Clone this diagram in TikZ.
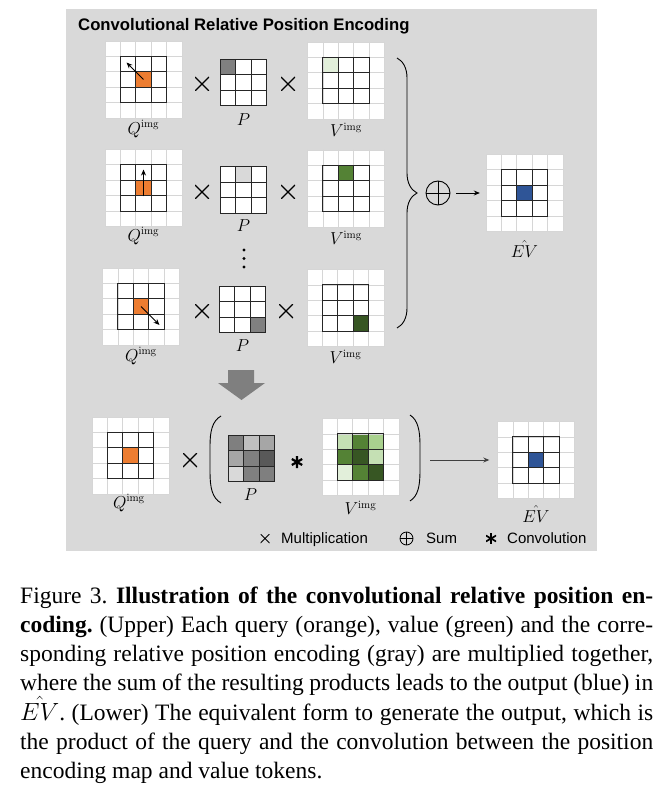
\documentclass[tikz,border=0pt]{standalone}
\usepackage[no-math]{fontspec}
\setsansfont{Liberation Sans}
\newfontfamily\capfont{Liberation Serif}
\usetikzlibrary{decorations.pathreplacing,arrows.meta,calc}
\definecolor{panelgray}{HTML}{D9D9D9}
\definecolor{gridgray}{HTML}{D6D6D6}
\definecolor{qorange}{HTML}{ED7D31}
\definecolor{evblue}{HTML}{2F5597}
\definecolor{gvlight}{HTML}{E2EFDA}
\definecolor{glight}{HTML}{C5E0B4}
\definecolor{glight2}{HTML}{A9D18E}
\definecolor{gmid}{HTML}{548235}
\definecolor{gdark}{HTML}{375623}
\definecolor{pvlight}{HTML}{D9D9D9}
\definecolor{plight}{HTML}{BFBFBF}
\definecolor{pmidl}{HTML}{A6A6A6}
\definecolor{pmid}{HTML}{808080}
\definecolor{pdark}{HTML}{595959}
\definecolor{arrgray}{HTML}{7F7F7F}
\def\cs{15.4}
\tikzset{
  gbox5/.style={rectangle,draw=none,fill=white,minimum size=77pt,inner sep=0pt},
  gbox3/.style={rectangle,draw=none,fill=white,minimum size=46.2pt,inner sep=0pt},
  lightline/.style={draw=gridgray,line width=0.8pt},
  darkline/.style={draw=black!85,line width=1pt,line cap=rect},
  lbl/.style={font=\fontsize{16}{18}\selectfont,inner sep=0pt},
  timesn/.style={minimum size=14pt,inner sep=0pt,path picture={
     \draw[line width=#1] (path picture bounding box.north west) -- (path picture bounding box.south east)
       (path picture bounding box.south west) -- (path picture bounding box.north east);}},
  timesn/.default=1.1pt,
  sumn/.style={circle,draw,line width=0.9pt,inner sep=0pt,path picture={
     \draw[line width=0.9pt] (path picture bounding box.north) -- (path picture bounding box.south)
       (path picture bounding box.west) -- (path picture bounding box.east);}},
  astn/.style={inner sep=0pt,path picture={
     \draw[line width=#1] (path picture bounding box.center) ++(90:6pt) -- ++(270:12pt)
       (path picture bounding box.center) ++(30:6pt) -- ++(210:12pt)
       (path picture bounding box.center) ++(150:6pt) -- ++(330:12pt);}},
  leg/.style={font=\sffamily\fontsize{15}{18}\selectfont,inner sep=0pt,anchor=base west},
  arrowst/.style={-{Stealth[length=6pt,width=5pt]},line width=0.9pt},
}
\newcommand\cellc[4]{\fill[#4] ($(#1.center)+(#2*\cs-0.5*\cs,#3*\cs-0.5*\cs)$) rectangle +(\cs,\cs);}
\newcommand\threelines[1]{%
  \foreach \k in {-1.5,-0.5,0.5,1.5}{
    \draw[darkline] ($(#1.center)+(\k*\cs,-1.5*\cs)$) -- ($(#1.center)+(\k*\cs,1.5*\cs)$);
    \draw[darkline] ($(#1.center)+(-1.5*\cs,\k*\cs)$) -- ($(#1.center)+(1.5*\cs,\k*\cs)$);
  }}
\newcommand\fivelines[1]{%
  \foreach \k in {-2.5,-1.5,-0.5,0.5,1.5,2.5}{
    \draw[lightline] ($(#1.center)+(\k*\cs,-2.5*\cs)$) -- ($(#1.center)+(\k*\cs,2.5*\cs)$);
    \draw[lightline] ($(#1.center)+(-2.5*\cs,\k*\cs)$) -- ($(#1.center)+(2.5*\cs,\k*\cs)$);
  }}
\begin{document}
\begin{tikzpicture}[x=1pt,y=-1pt]
\useasboundingbox (0,0) rectangle (666,791);
\fill[white] (0,0) rectangle (666,791);
\fill[panelgray] (66,9) rectangle (597,551);
\node[anchor=base west,font=\sffamily\bfseries\fontsize{16.7}{20}\selectfont,inner sep=0pt] (title) at (78,30.5) {Convolutional Relative Position Encoding};

% ---------- row 1
\node[gbox5] (q1) at (143.5,79.5) {};
\cellc{q1}{0}{0}{qorange}
\fivelines{q1}\threelines{q1}
\draw[arrowst] (q1.center) -- ($(q1.center)+(-1.1*\cs,-1.1*\cs)$);
\node[lbl] (q1l) at (143.5,129) {$Q^{\mathrm{img}}$};
\node[timesn] (x11) at (202,84) {};
\node[gbox3] (p1) at (243.5,82.5) {};
\cellc{p1}{-1}{-1}{pmid}
\threelines{p1}
\node[lbl] (p1l) at (243.5,120) {$P$};
\node[timesn] (x12) at (288,84) {};
\node[gbox5] (v1) at (346,80.5) {};
\cellc{v1}{-1}{-1}{gvlight}
\fivelines{v1}\threelines{v1}
\node[lbl] (v1l) at (346,130) {$V^{\mathrm{img}}$};

% ---------- row 2
\node[gbox5] (q2) at (143.5,188) {};
\cellc{q2}{0}{0}{qorange}
\fivelines{q2}\threelines{q2}
\draw[arrowst] ($(q2.center)+(0,0.55*\cs)$) -- ($(q2.center)+(0,-1.2*\cs)$);
\node[lbl] (q2l) at (143.5,236) {$Q^{\mathrm{img}}$};
\node[timesn] (x21) at (202,192) {};
\node[gbox3] (p2) at (243.5,190) {};
\cellc{p2}{0}{-1}{pvlight}
\threelines{p2}
\node[lbl] (p2l) at (243.5,226) {$P$};
\node[timesn] (x22) at (288,192) {};
\node[gbox5] (v2) at (346,188.5) {};
\cellc{v2}{0}{-1}{gmid}
\fivelines{v2}\threelines{v2}
\node[lbl] (v2l) at (346,238) {$V^{\mathrm{img}}$};

% dots
\fill (244,250) circle (1.6) (244,258.5) circle (1.6) (244,267) circle (1.6);

% ---------- row 3
\node[gbox5] (q3) at (141,306.5) {};
\cellc{q3}{0}{0}{qorange}
\fivelines{q3}\threelines{q3}
\draw[arrowst] (q3.center) -- ($(q3.center)+(1.2*\cs,1.2*\cs)$);
\node[lbl] (q3l) at (141,356) {$Q^{\mathrm{img}}$};
\node[timesn] (x31) at (202,311) {};
\node[gbox3] (p3) at (242.5,309.5) {};
\cellc{p3}{1}{1}{pmid}
\threelines{p3}
\node[lbl] (p3l) at (242.5,346) {$P$};
\node[timesn] (x32) at (286,311) {};
\node[gbox5] (v3) at (345.5,308) {};
\cellc{v3}{1}{1}{gdark}
\fivelines{v3}\threelines{v3}
\node[lbl] (v3l) at (345.5,357) {$V^{\mathrm{img}}$};

% brace, sum, output
\draw[decorate,decoration={brace,amplitude=20pt},line width=0.9pt] (397,58) -- (397,328);
\node[sumn,minimum size=24pt] (sum) at (438,193) {};
\node[gbox5] (ev1) at (524.5,193) {};
\cellc{ev1}{0}{0}{evblue}
\fivelines{ev1}\threelines{ev1}
\node[lbl] (ev1l) at (524.5,249) {$\hat{EV}$};
\draw[arrowst,shorten <=6pt,shorten >=6pt] (sum) -- (ev1);

% big down arrow
\fill[arrgray] (228,370) -- (254,370) -- (254,383) -- (265,383) -- (241.5,400) -- (218,383) -- (228,383) -- cycle;

% ---------- lower row
\node[gbox5] (q4) at (130.5,455.5) {};
\cellc{q4}{0}{0}{qorange}
\fivelines{q4}\threelines{q4}
\node[lbl] (q4l) at (129,503) {$Q^{\mathrm{img}}$};
\node[timesn] (x41) at (190,460) {};
\draw[line width=0.9pt] (221,416) .. controls (212,421) and (210,432) .. (210,446) -- (210,472) .. controls (210,487) and (212,498) .. (221,503);
\node[gbox3] (p4) at (251.5,458.5) {};
\cellc{p4}{-1}{-1}{arrgray}
\cellc{p4}{0}{-1}{plight}
\cellc{p4}{1}{-1}{pmidl}
\cellc{p4}{-1}{0}{pmidl}
\cellc{p4}{0}{0}{pmid}
\cellc{p4}{1}{0}{pdark}
\cellc{p4}{-1}{1}{pvlight}
\cellc{p4}{0}{1}{pmid}
\cellc{p4}{1}{1}{arrgray}
\threelines{p4}
\node[lbl] (p4l) at (250.5,495) {$P$};
\node[astn=2.2pt,minimum size=13pt] (ast) at (297,462) {};
\node[gbox5] (v4) at (360.5,457) {};
\cellc{v4}{-1}{-1}{glight}
\cellc{v4}{0}{-1}{gmid}
\cellc{v4}{1}{-1}{glight2}
\cellc{v4}{-1}{0}{gmid}
\cellc{v4}{0}{0}{gdark}
\cellc{v4}{1}{0}{glight}
\cellc{v4}{-1}{1}{gvlight}
\cellc{v4}{0}{1}{gmid}
\cellc{v4}{1}{1}{gdark}
\fivelines{v4}\threelines{v4}
\node[lbl] (v4l) at (360.5,508) {$V^{\mathrm{img}}$};
\draw[line width=0.9pt] (410,415) .. controls (418,420) and (420,431) .. (420,445) -- (420,471) .. controls (420,486) and (418,496) .. (410,501);
\coordinate (rpar) at (430,460);
\node[gbox5] (ev2) at (536,460) {};
\cellc{ev2}{0}{0}{evblue}
\fivelines{ev2}\threelines{ev2}
\node[lbl] (ev2l) at (536,514) {$\hat{EV}$};
\draw[arrowst,black!75,shorten >=8pt] (rpar) -- (ev2.west);

% legend
\node[timesn=0.8pt,minimum size=9pt] (legx) at (265,538.5) {};
\node[leg] (legm) at (281,543.5) {Multiplication};
\node[sumn,minimum size=13pt,line width=0.8pt] (legs) at (406.5,538.5) {};
\node[leg] (legst) at (426,543.5) {Sum};
\node[astn=1.7pt,minimum size=10pt] (lega) at (491,538.5) {};
\node[leg] (legct) at (507,543.5) {Convolution};

% caption
\node[anchor=base west,inner sep=0pt,text width=633pt,align=justify,
      font=\capfont\fontsize{23.5}{29.2}\selectfont] (cap) at (20,603.3)
 {\frenchspacing Figure 3. \textbf{Illustration of the convolutional relative position en-\linebreak coding.} (Upper) Each query (orange), value (green) and the corre-\linebreak sponding relative position encoding (gray) are multiplied together,\linebreak where the sum of the resulting products leads to the output (blue) in\linebreak $\hat{EV}$. (Lower) The equivalent form to generate the output, which is\linebreak the product of the query and the convolution between the position\linebreak encoding map and value tokens.};
\end{tikzpicture}
\end{document}
